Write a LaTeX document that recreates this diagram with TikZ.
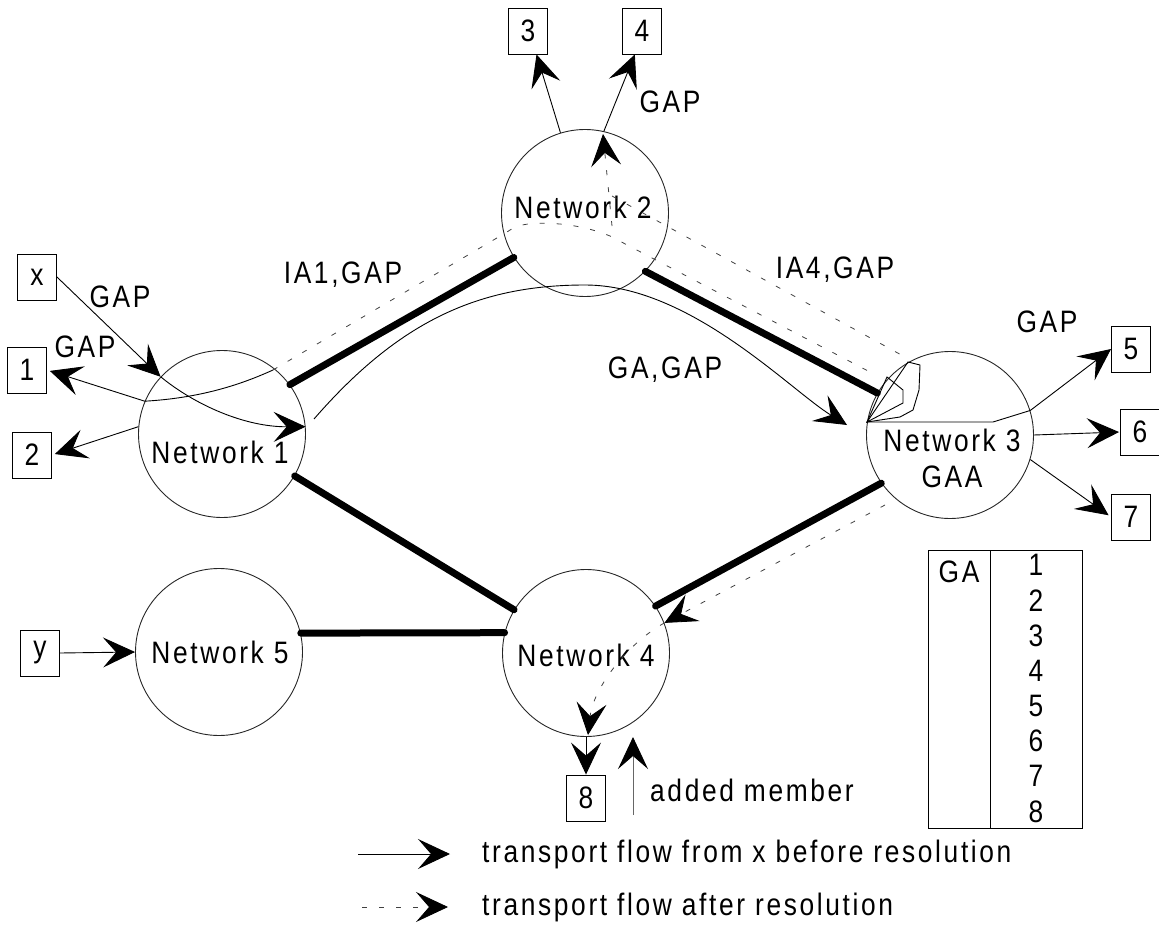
\documentclass[tikz,border=0pt]{standalone}
\usepackage{fontspec}
\setmainfont{Liberation Sans}[FakeStretch=0.85,LetterSpace=8.5]
\usetikzlibrary{arrows.meta,calc}
\begin{document}
\begin{tikzpicture}[x=1pt,y=-1pt,
  every node/.style={font=\fontsize{31}{36}\selectfont, inner sep=0pt},
  net/.style={circle,draw=black!85,line width=0.9pt,minimum size=167pt},
  numbox/.style={draw,line width=0.9pt,minimum width=39pt,minimum height=46pt},
  link/.style={line width=7pt,line cap=round},
  tipstyle/.style={-{Stealth[length=32pt,width=30pt,inset=13pt,black]}},
  flow/.style={line width=0.9pt,tipstyle},
  dflow/.style={line width=0.8pt,draw=black!75,dash pattern=on 5pt off 12pt},
  thinline/.style={line width=0.9pt},
]
\path[use as bounding box] (0,0) rectangle (1159,944);

% networks
\node[net] (n1) at (222,434) {};
\node[net] (n2) at (585,213) {};
\node[net] (n3) at (950,435) {};
\node[net] (n4) at (586,653) {};
\node[net] (n5) at (219,652) {};
\node (l1) at (220,452) {Network 1};
\node (l2) at (583,207) {Network 2};
\node[align=center] (l3) at (952,458) {Network 3\\GAA};
\node (l4) at (586,655) {Network 4};
\node (l5) at (220,652) {Network 5};

% member boxes
\node[numbox] (bx) at (37,277) {x};
\node[numbox] (b1) at (27,370) {1};
\node[numbox] (b2) at (32,455) {2};
\node[numbox] (b3) at (528,31) {3};
\node[numbox] (b4) at (642,31) {4};
\node[numbox] (b5) at (1131,349) {5};
\node[numbox] (b6) at (1140,432) {6};
\node[numbox] (b7) at (1131,517) {7};
\node[numbox] (b8) at (586,798) {8};
\node[numbox] (by) at (40,653) {y};

% thick links
\draw[link] (n1.36) -- (n2.212);
\draw[link] (n2.-44) -- (n3.150);
\draw[link] (n1.-30) -- (n4.149);
\draw[link] (n3.215) -- (n4.34);
\draw[link] (n5.13) -- (n4.166);

% solid flows
\draw[flow] (bx.east) -- (n1.137);
\draw[flow] (n1.137) .. controls (195,405) and (245,427) .. (n1.5);
\draw[flow,shorten >=3pt] (n1.157) -- (b1.east);
\draw[flow,shorten >=3pt] (n1.175) -- (b2.east);
\draw[thinline] (n1.157) .. controls (200,398) and (240,385) .. (273,370);
\draw[flow] (n2.107) -- (b3.-70);
\draw[flow] (n2.77) -- (b4.-107);
\coordinate (gs) at (314,419);
\coordinate (ge) at (847,425);
\draw[flow] (gs) .. controls (400,320) and (480,285) .. (585,285)
                 .. controls (690,285) and (790,390) .. (ge);
\coordinate (ap) at (867,422);
\draw[thinline] (ap) -- (908,362) -- (920,365) -- (919,390) -- (913,410) -- (900,417) -- cycle;
\draw[thinline] (ap) -- (887,377) -- (903,390) -- (903,403) -- cycle;
\draw[flow] (ap) -- (993,422) -- (n3.17) -- (b5.west);
\draw[flow,shorten >=1pt] (n3.east) -- (b6.west);
\draw[flow,shorten >=3pt] (n3.-17) -- (b7.west);
\draw[flow] (by.east) -- (n5.west);
\draw[flow] (n4.south) -- (b8.north);

% dashed flows
\draw[dflow] (273,370) -- (507,232) .. controls (518,224) and (530,222) .. (560,224)
   .. controls (580,226) and (595,230) .. (610,236) -- (870,372);
\draw[dflow] (612,196) -- (905,357);
\draw[dflow,tipstyle] (612,226) -- (603,134);
\draw[dflow,tipstyle] (885,505) -- (n4.21);
\draw[dflow,tipstyle] (n4.21) .. controls (625,645) and (593,690) .. (588,735);

% added member
\coordinate (am) at (633,815);
\draw[thinline,draw=black!60,tipstyle] (am) -- (633,737);
\node[anchor=west] (amt) at (650,790) {added member};

% labels
\node (g1) at (120,297) {GAP};
\node (g2) at (85,347) {GAP};
\node (ia1) at (343,275) {IA1,GAP};
\node (ia4) at (835,270) {IA4,GAP};
\node (gag) at (665,370) {GA,GAP};
\node (g4) at (670,102) {GAP};
\node (g5) at (1047,322) {GAP};

% table
\draw[line width=1pt] (928,550) rectangle (1082,828);
\draw[line width=1pt] (990,550) -- (990,828);
\node (ga) at (959,572) {GA};
\foreach \i in {1,...,8} \node (r\i) at (1036,{565+35.2*(\i-1)}) {\i};

% legend
\coordinate (la1) at (358,854);
\coordinate (la2) at (450,854);
\draw[flow] (la1) -- (la2);
\node[anchor=west] (lt1) at (482,854) {transport flow from x before resolution};
\coordinate (lb1) at (362,907);
\coordinate (lb2) at (448,907);
\draw[dflow,tipstyle] (lb1) -- (lb2);
\node[anchor=west] (lt2) at (482,907) {transport flow after resolution};
\end{tikzpicture}
\end{document}
